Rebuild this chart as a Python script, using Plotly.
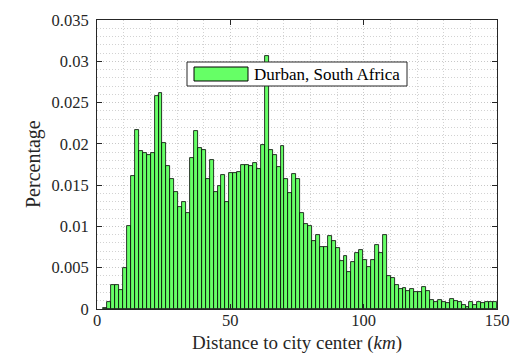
import numpy as np
import plotly.graph_objects as go

# Histogram of distance to city center (Durban, South Africa)
bin_start = 2.4     # km, left edge of first bin
bin_end = 150.0     # km, right edge of last bin
percentages = [
    0.00015, 0.0009, 0.0029, 0.0029, 0.0023, 0.0050, 0.0100, 0.0161, 0.0217, 0.0191,
    0.0189, 0.0187, 0.0189, 0.0258, 0.0261, 0.0201, 0.0173, 0.0158, 0.0142, 0.0124,
    0.0130, 0.0116, 0.0183, 0.0216, 0.0195, 0.0193, 0.0158, 0.0181, 0.0142, 0.0149,
    0.0162, 0.0129, 0.0165, 0.0165, 0.0166, 0.0175, 0.0175, 0.0173, 0.0177, 0.0170,
    0.0199, 0.0307, 0.0192, 0.0187, 0.0172, 0.0198, 0.0157, 0.0140, 0.0164, 0.0157,
    0.0116, 0.0103, 0.0100, 0.0082, 0.0090, 0.0075, 0.0075, 0.0088, 0.0082, 0.0074,
    0.0058, 0.0064, 0.0045, 0.0057, 0.0068, 0.0071, 0.0059, 0.0051, 0.0059, 0.0078,
    0.0068, 0.0090, 0.0040, 0.0038, 0.0029, 0.0024, 0.0025, 0.0022, 0.0024, 0.0020,
    0.0020, 0.0027, 0.0022, 0.0011, 0.0008, 0.0011, 0.0009, 0.0007, 0.0012, 0.0010,
    0.0008, 0.0005, 0.0003, 0.0008, 0.0005, 0.0008, 0.0007, 0.0009, 0.0009, 0.0008,
]
series_name = "Durban, South Africa"
x_title = "Distance to city center (<i>km</i>)"
y_title = "Percentage"
x_ticks = [0, 50, 100, 150]
y_ticks = [0, 0.005, 0.01, 0.015, 0.02, 0.025, 0.03, 0.035]
y_ticklabels = ["0", "0.005", "0.01", "0.015", "0.02", "0.025", "0.03", "0.035"]

edges = np.linspace(bin_start, bin_end, len(percentages) + 1)
centers = (edges[:-1] + edges[1:]) / 2
width = edges[1] - edges[0]

FONT = "Liberation Serif, serif"
AXC = "#262626"
GREEN = "#66FF66"

fig = go.Figure()
fig.add_trace(go.Bar(
    x=centers, y=percentages, width=width,
    marker=dict(color=GREEN, line=dict(color="black", width=0.8)),
    name=series_name, showlegend=False,
))

W, H = 510, 356
L, R, T, B = 97, 13, 20, 47
pw, ph = W - L - R, H - T - B

def px2paper(x, y):
    return (x - L) / pw, (H - B - y) / ph

# Legend (box, patch, label)
bx0, by0 = px2paper(187, 62)
bx1, by1 = px2paper(407, 86)
sx0, sy0 = px2paper(194, 67)
sx1, sy1 = px2paper(248, 81)
tx, ty = px2paper(252, 74)

fig.add_shape(type="rect", xref="paper", yref="paper", x0=bx0, y0=by1, x1=bx1, y1=by0,
              fillcolor="white", line=dict(color=AXC, width=1), layer="above")
fig.add_shape(type="rect", xref="paper", yref="paper", x0=sx0, y0=sy1, x1=sx1, y1=sy0,
              fillcolor=GREEN, line=dict(color="black", width=1), layer="above")
fig.add_annotation(xref="paper", yref="paper", x=tx, y=ty, text=series_name,
                   showarrow=False, xanchor="left", yanchor="middle",
                   font=dict(family=FONT, size=17, color="black"))

# Axis titles
xt_x, xt_y = px2paper(297, 356)
fig.add_annotation(xref="paper", yref="paper", x=xt_x, y=xt_y, text=x_title,
                   showarrow=False, xanchor="center", yanchor="bottom",
                   font=dict(family=FONT, size=19, color=AXC))
yt_x, yt_y = px2paper(33, 164)
fig.add_annotation(xref="paper", yref="paper", x=yt_x, y=yt_y, text=y_title,
                   showarrow=False, xanchor="center", yanchor="middle", textangle=-90,
                   font=dict(family=FONT, size=20, color=AXC))

grid = dict(showgrid=True, gridcolor="#c8c8c8", griddash="1px,2px", gridwidth=1)
mgrid = dict(showgrid=True, gridcolor="#d2d2d2", griddash="1px,2px", gridwidth=1)
tickfont = dict(family=FONT, size=16.5, color=AXC)
fig.update_layout(
    width=W, height=H,
    margin=dict(l=L, r=R, t=T, b=B, pad=0),
    paper_bgcolor="white", plot_bgcolor="white",
    bargap=0,
    font=dict(family=FONT, size=17, color=AXC),
    xaxis=dict(
        range=[0, 150], tickvals=x_ticks, ticktext=[str(v) for v in x_ticks],
        ticks="inside", ticklen=5, tickcolor=AXC, tickwidth=1, tickfont=tickfont,
        showline=True, linecolor=AXC, linewidth=1, mirror="ticks",
        zeroline=False, ticklabelstandoff=-4, automargin=False,
        minor=dict(dtick=10, **mgrid),
        **grid,
    ),
    yaxis=dict(
        range=[0, 0.035], tickvals=y_ticks, ticktext=y_ticklabels,
        ticks="inside", ticklen=5, tickcolor=AXC, tickwidth=1, tickfont=tickfont,
        showline=True, linecolor=AXC, linewidth=1, mirror="ticks",
        zeroline=False, ticklabelstandoff=4, automargin=False,
        minor=dict(dtick=0.001, **mgrid),
        **grid,
    ),
)

fig.write_html("out.html")
